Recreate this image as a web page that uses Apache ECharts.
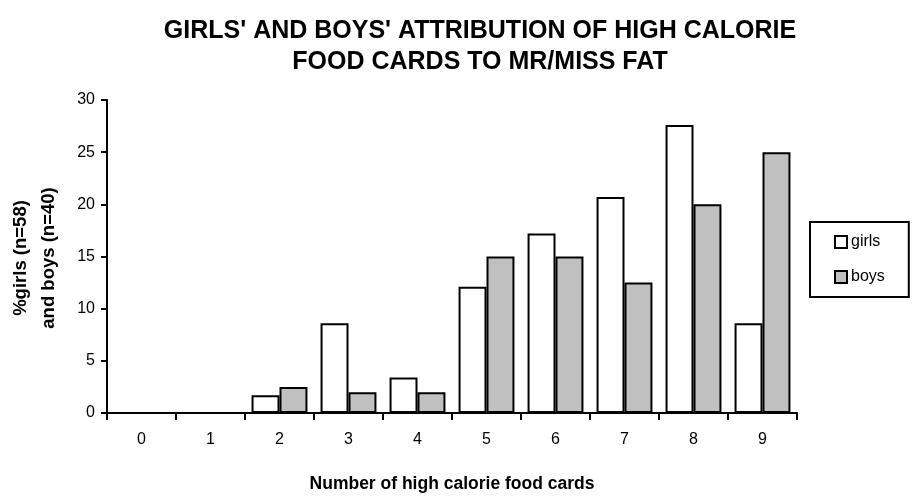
<!DOCTYPE html>
<html>
<head>
<meta charset="utf-8">
<script src="https://cdn.jsdelivr.net/npm/echarts@6/dist/echarts.min.js"></script>
<style>
  html, body { margin: 0; padding: 0; background: #fff; }
  #chart { width: 913px; height: 502px; }
</style>
</head>
<body>
<div id="chart"></div>
<script>
// Number of high calorie food cards attributed to Mr/Miss Fat
const cardCounts = ['0', '1', '2', '3', '4', '5', '6', '7', '8', '9'];
// Percentage of girls (n=58) per card count
const girlsPct = [0, 0, 1.7, 8.6, 3.4, 12.1, 17.2, 20.7, 27.6, 8.6];
// Percentage of boys (n=40) per card count
const boysPct = [0, 0, 2.5, 2, 2, 15, 15, 12.5, 20, 25];
// Value axis ticks
const yTicks = { min: 0, max: 30, step: 5 };

const FONT = '"Liberation Sans", Arial, sans-serif';

const chart = echarts.init(document.getElementById('chart'), null, { renderer: 'canvas' });

chart.setOption({
  animation: false,
  backgroundColor: '#ffffff',
  textStyle: { fontFamily: FONT, color: '#000' },
  title: {
    text: "GIRLS' AND BOYS' ATTRIBUTION OF HIGH CALORIE\nFOOD CARDS TO MR/MISS FAT",
    left: 475,
    top: 11,
    textAlign: 'center',
    textStyle: { fontFamily: FONT, fontSize: 25, fontWeight: 'bold', color: '#000', lineHeight: 31 }
  },
  legend: {
    orient: 'vertical',
    left: 810,
    top: 222,
    padding: [12, 24, 12, 24],
    itemGap: 19,
    itemWidth: 12,
    itemHeight: 12,
    icon: 'rect',
    borderColor: '#000',
    borderWidth: 2,
    borderRadius: 0,
    textStyle: { fontFamily: FONT, fontSize: 16, color: '#000', padding: [0, 0, 0, -1] },
    data: ['girls', 'boys']
  },
  grid: { left: 107, right: 116, top: 100, bottom: 89 },
  xAxis: {
    type: 'category',
    data: cardCounts,
    boundaryGap: true,
    name: 'Number of high calorie food cards',
    nameLocation: 'middle',
    nameGap: 62,
    nameTextStyle: { fontFamily: FONT, fontSize: 17.5, fontWeight: 'bold', color: '#000' },
    axisLine: { lineStyle: { color: '#000', width: 2 } },
    axisTick: { show: true, inside: false, length: 7, alignWithLabel: false, lineStyle: { color: '#000', width: 2 } },
    axisLabel: { fontFamily: FONT, fontSize: 16, color: '#000', margin: 19 },
    splitLine: { show: false }
  },
  yAxis: {
    type: 'value',
    min: yTicks.min,
    max: yTicks.max,
    interval: yTicks.step,
    axisLine: { show: true, lineStyle: { color: '#000', width: 2 } },
    axisTick: { show: true, inside: false, length: 6, lineStyle: { color: '#000', width: 2 } },
    axisLabel: { fontFamily: FONT, fontSize: 16, color: '#000', margin: 12 },
    splitLine: { show: false }
  },
  graphic: [
    {
      type: 'text',
      x: 35,
      y: 258,
      rotation: Math.PI / 2,
      style: {
        text: '%girls (n=58)\nand boys (n=40)',
        font: 'bold 18.5px ' + FONT,
        fill: '#000',
        align: 'center',
        verticalAlign: 'middle',
        lineHeight: 28
      }
    }
  ],
  series: [
    {
      name: 'girls',
      type: 'bar',
      data: girlsPct,
      barGap: '0%',
      barCategoryGap: '19%',
      itemStyle: { color: '#ffffff', borderColor: '#000', borderWidth: 2 }
    },
    {
      name: 'boys',
      type: 'bar',
      data: boysPct,
      barGap: '0%',
      barCategoryGap: '19%',
      itemStyle: { color: '#c0c0c0', borderColor: '#000', borderWidth: 2 }
    }
  ]
});
</script>
</body>
</html>
